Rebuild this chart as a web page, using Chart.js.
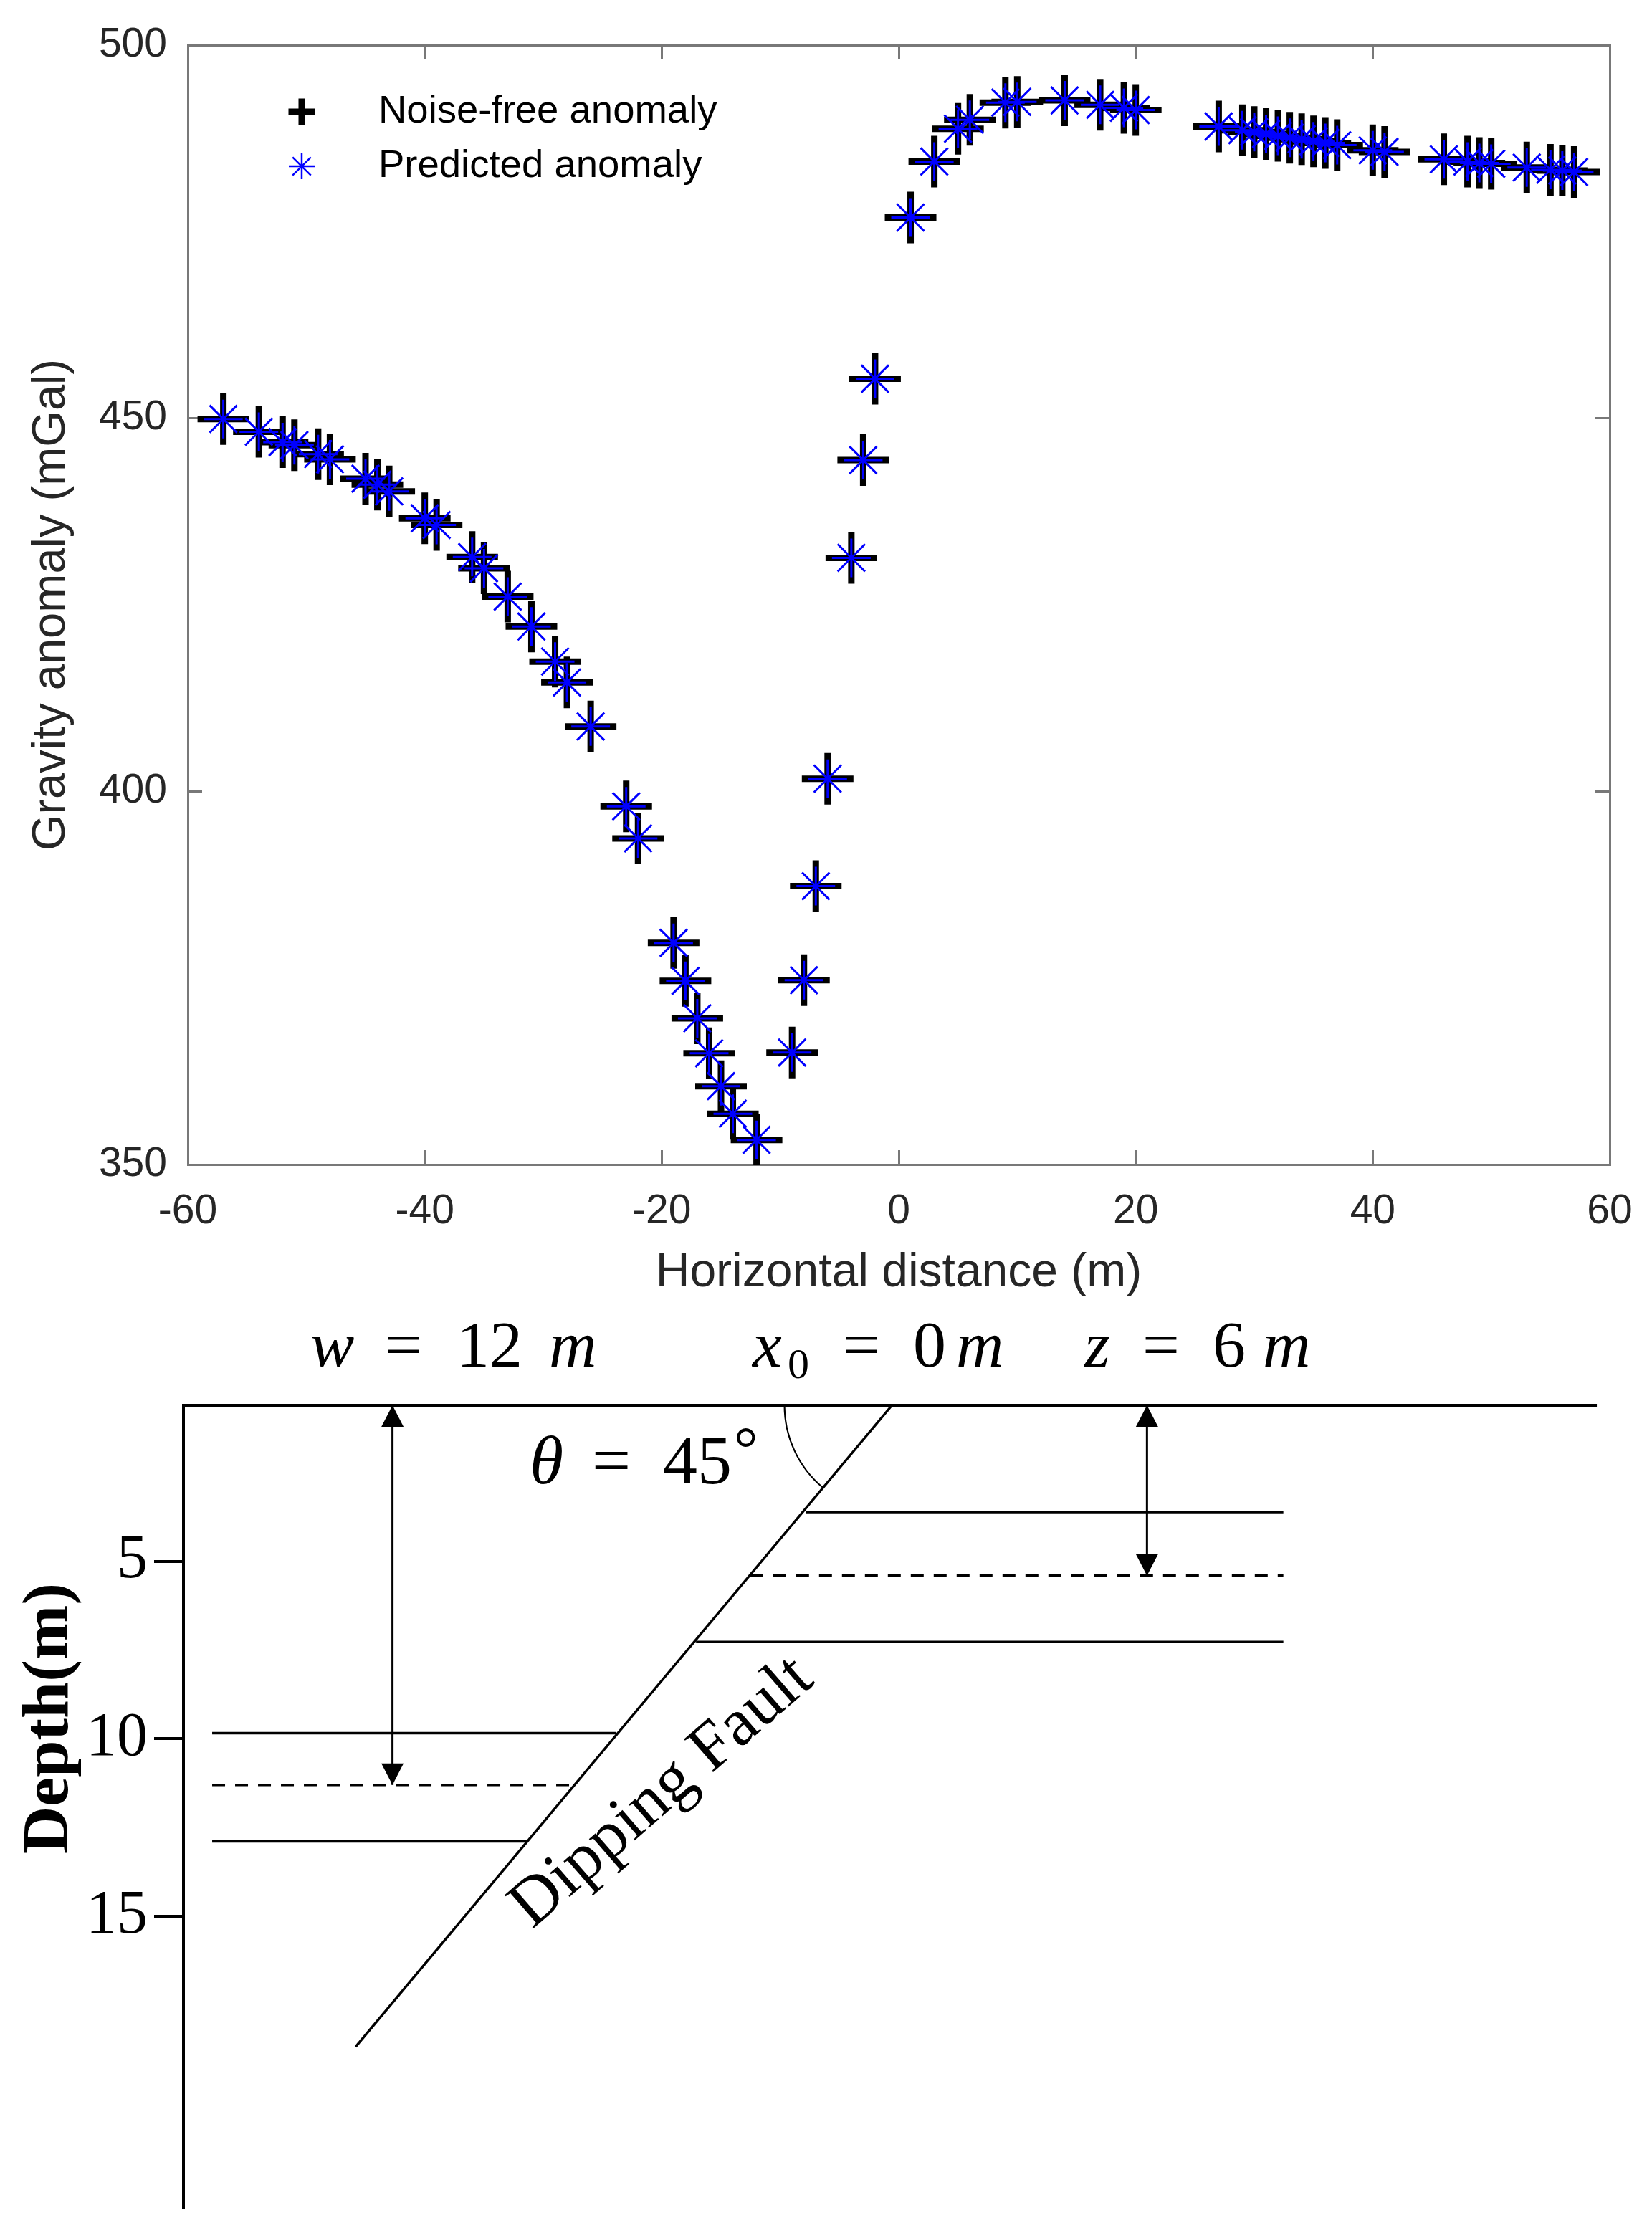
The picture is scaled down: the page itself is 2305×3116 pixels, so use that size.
<!DOCTYPE html>
<html>
<head>
<meta charset="utf-8">
<script src="https://cdn.jsdelivr.net/npm/chart.js@4.4.1/dist/chart.umd.min.js"></script>
<style>
  html, body { margin: 0; padding: 0; background: #fff; }
  #anomaly { position: absolute; left: 0; top: 0; }
  #section { position: absolute; left: 0; top: 1830px; }
</style>
</head>
<body>
<canvas id="anomaly" width="2305" height="1830"></canvas>
<canvas id="section" width="2305" height="1286"></canvas>
<script>
// ---- anomaly profile ----
var distance = [-57, -54, -52, -51, -49, -48, -45, -44, -43, -40, -39, -36, -35, -33, -31, -29, -28, -26,
  -23, -22, -19, -18, -17, -16, -15, -14, -12, -9, -8, -7, -6, -4, -3, -2, 1, 3, 5, 6, 9, 10, 14, 17, 19, 20,
  27, 29, 30, 31, 32, 33, 34, 35, 36, 37, 40, 41, 46, 48, 49, 50, 53, 55, 56, 57];
var noiseFree = [449.9, 448.2, 446.8, 446.4, 445.2, 444.5, 441.9, 441.1, 440.2, 436.6, 435.7, 431.4, 429.9,
  426.1, 422.1, 417.4, 414.6, 408.7, 398.0, 393.7, 379.7, 374.6, 369.6, 364.9, 360.5, 356.8, 353.3, 365.0,
  374.7, 387.3, 401.7, 431.3, 444.4, 455.3, 476.9, 484.4, 488.8, 490.0, 492.3, 492.4, 492.6, 492.0, 491.6,
  491.3, 489.1, 488.6, 488.35, 488.1, 487.85, 487.6, 487.4, 487.1, 486.9, 486.6, 485.9, 485.7, 484.7, 484.4,
  484.2, 484.1, 483.6, 483.3, 483.2, 483.0];
var predicted = [449.9, 448.2, 446.8, 446.4, 445.2, 444.5, 441.9, 441.1, 440.2, 436.6, 435.7, 431.4, 429.9,
  426.1, 422.1, 417.4, 414.6, 408.7, 398.0, 393.7, 379.7, 374.6, 369.6, 364.9, 360.5, 356.8, 353.3, 365.0,
  374.7, 387.3, 401.7, 431.3, 444.4, 455.3, 476.9, 484.4, 488.8, 490.0, 492.3, 492.4, 492.6, 492.0, 491.6,
  491.3, 489.1, 488.6, 488.35, 488.1, 487.85, 487.6, 487.4, 487.1, 486.9, 486.6, 485.9, 485.7, 484.7, 484.4,
  484.2, 484.1, 483.6, 483.3, 483.2, 483.0];
var seriesNames = ['Noise-free anomaly', 'Predicted anomaly'];
var xTickValues = [-60, -40, -20, 0, 20, 40, 60];
var yTickValues = [350, 400, 450, 500];

// ---- fault sketch (x in m, depth in m on the drawn depth axis) ----
var surfaceX = [-20, 19.9];
var surfaceDepth = [0.6, 0.6];
var faultX = [0, -15.14];
var faultDepth = [0.6, 18.68];
var rightBedDepth = [3.61, 5.40, 7.27];     // top, centre (dashed), bottom
var rightBedStart = [-2.42, -4.0, -5.53];
var rightBedEnd = [11.05, 11.05, 11.05];
var leftBedDepth = [9.84, 11.30, 12.89];
var leftBedStart = [-19.19, -19.19, -19.19];
var leftBedEnd = [-7.78, -8.99, -10.31];
var arrowX = [-14.10, 7.20];                // w arrow, z arrow
var arrowTop = [0.6, 0.6];
var arrowBottom = [11.30, 5.40];
var depthTicks = [5, 10, 15];

var axisGrey = '#787878';
var sans = '"Liberation Sans", Arial, sans-serif';
var serif = '"Liberation Serif", "Times New Roman", serif';

function points(xs, ys) {
  return xs.map(function (v, i) { return {x: v, y: ys[i]}; });
}
function setTicks(values) {
  return function (scale) { scale.ticks = values.map(function (v) { return {value: v}; }); };
}
// fix an axis' thickness and stop its labels from pushing the plot area in
function fixSize(size) {
  return function (s) {
    if (s.isHorizontal()) s.height = size; else s.width = size;
    s.paddingTop = s.paddingBottom = s.paddingLeft = s.paddingRight = 0;
  };
}

// legend drawn inside the axes, top left, like the original
var insideLegend = {
  id: 'insideLegend',
  afterDatasetsDraw: function (chart) {
    var ctx = chart.ctx, area = chart.chartArea;
    var items = [
      {style: 'cross', radius: 18.5, width: 9, color: '#000'},
      {style: 'star', radius: 18, width: 2.5, color: '#0000ff'}
    ];
    items.forEach(function (it, i) {
      var px = area.left + 159, py = area.top + 93 + i * 76;
      ctx.save();
      ctx.strokeStyle = it.color;
      ctx.fillStyle = it.color;
      ctx.lineWidth = it.width;
      Chart.helpers.drawPoint(ctx, {pointStyle: it.style, radius: it.radius, borderWidth: it.width, rotation: 0}, px, py);
      ctx.fillStyle = '#000';
      ctx.font = '54.5px ' + sans;
      ctx.textBaseline = 'middle';
      ctx.textAlign = 'left';
      ctx.fillText(seriesNames[i], area.left + 266, py);
      ctx.restore();
    });
  }
};

function boxAxis(pos, min, max, ticks) {
  return {
    type: 'linear', position: pos, min: min, max: max,
    afterBuildTicks: setTicks(ticks),
    afterFit: fixSize(0),
    ticks: {display: false},
    grid: {drawOnChartArea: false, tickLength: -20, color: axisGrey, lineWidth: 3},
    border: {display: true, color: axisGrey, width: 3}
  };
}

new Chart(document.getElementById('anomaly'), {
  type: 'scatter',
  data: {
    datasets: [
      {
        label: seriesNames[0],
        data: points(distance, noiseFree),
        pointStyle: 'cross', pointRadius: 36, pointBorderWidth: 9,
        pointBorderColor: '#000', pointBackgroundColor: '#000',
        order: 1
      },
      {
        label: seriesNames[1],
        data: points(distance, predicted),
        pointStyle: 'star', pointRadius: 27, pointBorderWidth: 3,
        pointBorderColor: '#0000ff', pointBackgroundColor: '#0000ff',
        order: 0
      }
    ]
  },
  options: {
    responsive: false, animation: false, devicePixelRatio: 1, events: [],
    layout: {padding: {top: 63, right: 59, bottom: 0, left: 0}},
    plugins: {legend: {display: false}, tooltip: {enabled: false}},
    scales: {
      x: {
        type: 'linear', position: 'bottom', min: -60, max: 60,
        afterBuildTicks: setTicks(xTickValues),
        afterFit: fixSize(205),
        ticks: {font: {family: sans, size: 57}, color: '#262626', padding: 52, maxRotation: 0, autoSkip: false},
        grid: {drawOnChartArea: false, tickLength: -20, color: axisGrey, lineWidth: 3},
        border: {display: true, color: axisGrey, width: 3},
        title: {display: true, text: 'Horizontal distance (m)', font: {family: sans, size: 66}, color: '#262626',
          padding: {top: 0, bottom: 14}}
      },
      y: {
        type: 'linear', position: 'left', min: 350, max: 500,
        afterBuildTicks: setTicks(yTickValues),
        afterFit: fixSize(262),
        ticks: {font: {family: sans, size: 57}, color: '#262626', padding: 49, autoSkip: false},
        grid: {drawOnChartArea: false, tickLength: -20, color: axisGrey, lineWidth: 3},
        border: {display: true, color: axisGrey, width: 3},
        title: {display: true, text: 'Gravity anomaly (mGal)', font: {family: sans, size: 65}, color: '#262626',
          padding: {top: 33, bottom: 0}}
      },
      x2: boxAxis('top', -60, 60, xTickValues),
      y2: boxAxis('right', 350, 500, yTickValues)
    }
  },
  plugins: [insideLegend]
});

// ---- sketch of the dipping fault ----
function seg(x0, d0, x1, d1) { return [{x: x0, y: d0}, {x: x1, y: d1}]; }
var lines = [];
lines.push({data: points(surfaceX, surfaceDepth), borderWidth: 4});
lines.push({data: points(faultX, faultDepth), borderWidth: 3.5});
rightBedDepth.forEach(function (d, i) {
  lines.push({data: seg(rightBedStart[i], d, rightBedEnd[i], d), borderWidth: 3.5, borderDash: i === 1 ? [18, 14] : []});
});
leftBedDepth.forEach(function (d, i) {
  lines.push({data: seg(leftBedStart[i], d, leftBedEnd[i], d), borderWidth: 3.5, borderDash: i === 1 ? [18, 14] : []});
});
arrowX.forEach(function (ax, i) {
  lines.push({data: seg(ax, arrowTop[i], ax, arrowBottom[i]), borderWidth: 3});
});
lines.forEach(function (l) {
  l.showLine = true; l.pointRadius = 0; l.borderColor = '#000'; l.fill = false; l.clip = false;
});

var sketchDecor = {
  id: 'sketchDecor',
  afterDatasetsDraw: function (chart) {
    var ctx = chart.ctx, sx = chart.scales.x, sy = chart.scales.y;
    ctx.save();
    ctx.fillStyle = '#000';
    ctx.strokeStyle = '#000';
    // arrow heads
    arrowX.forEach(function (ax, i) {
      var px = sx.getPixelForValue(ax);
      [[arrowTop[i], -1], [arrowBottom[i], 1]].forEach(function (e) {
        var tip = sy.getPixelForValue(e[0]);
        ctx.beginPath();
        ctx.moveTo(px, tip);
        ctx.lineTo(px - 15.5, tip - e[1] * 30);
        ctx.lineTo(px + 15.5, tip - e[1] * 30);
        ctx.closePath();
        ctx.fill();
      });
    });
    // dip angle arc at the top of the fault
    var cx = sx.getPixelForValue(faultX[0]), cy = sy.getPixelForValue(faultDepth[0]);
    var ang = Math.atan2(sy.getPixelForValue(faultDepth[1]) - cy, sx.getPixelForValue(faultX[1]) - cx);
    ctx.lineWidth = 2;
    ctx.beginPath();
    ctx.arc(cx, cy, 150, ang, Math.PI);
    ctx.stroke();

    // parameter line above the sketch
    ctx.textAlign = 'left';
    ctx.textBaseline = 'alphabetic';
    var parts = [
      ['w', 433, 'italic '], ['=', 537, ''], ['12', 637, ''], ['m', 766, 'italic '],
      ['x', 1050, 'italic '], ['=', 1176, ''], ['0', 1274, ''], ['m', 1334, 'italic '],
      ['z', 1513, 'italic '], ['=', 1594, ''], ['6', 1692, ''], ['m', 1762, 'italic ']
    ];
    parts.forEach(function (p) {
      ctx.font = p[2] + '92px ' + serif;
      ctx.fillText(p[0], p[1], 77);
    });
    ctx.font = '60px ' + serif;
    ctx.fillText('0', 1099, 93);

    // dip angle label
    ctx.font = 'italic 96px ' + serif;
    ctx.fillText('\u03b8', 739, 240);
    ctx.font = '96px ' + serif;
    ctx.fillText('=', 826, 240);
    ctx.fillText('45', 925, 240);
    ctx.font = '84px ' + serif;
    ctx.fillText('\u00b0', 1024, 220);

    // fault label
    ctx.save();
    ctx.translate(924, 672);
    ctx.rotate(-41 * Math.PI / 180);
    ctx.font = '94px ' + serif;
    ctx.textAlign = 'center';
    ctx.textBaseline = 'middle';
    ctx.fillText('Dipping Fault', 0, 0);
    ctx.restore();

    // depth axis title
    ctx.save();
    ctx.translate(70, 568);
    ctx.rotate(-Math.PI / 2);
    ctx.font = 'bold 92px ' + serif;
    ctx.textAlign = 'center';
    ctx.textBaseline = 'middle';
    ctx.fillText('Depth(m)', 0, 0);
    ctx.restore();
    ctx.restore();
  }
};

new Chart(document.getElementById('section'), {
  type: 'scatter',
  data: {datasets: lines},
  options: {
    responsive: false, animation: false, devicePixelRatio: 1, events: [],
    layout: {padding: {top: 131, right: 72, bottom: 36, left: 0}},
    plugins: {legend: {display: false}, tooltip: {enabled: false}},
    scales: {
      x: {type: 'linear', min: -20, max: 20, display: false},
      y: {
        type: 'linear', position: 'left', reverse: true, min: 0.6, max: 23.2,
        afterBuildTicks: setTicks(depthTicks),
        afterFit: fixSize(256),
        ticks: {font: {family: serif, size: 86}, color: '#000', padding: 9, autoSkip: false},
        grid: {drawOnChartArea: false, tickLength: 41, color: '#000', lineWidth: 4},
        border: {display: true, color: '#000', width: 4}
      }
    }
  },
  plugins: [sketchDecor]
});
</script>
</body>
</html>
